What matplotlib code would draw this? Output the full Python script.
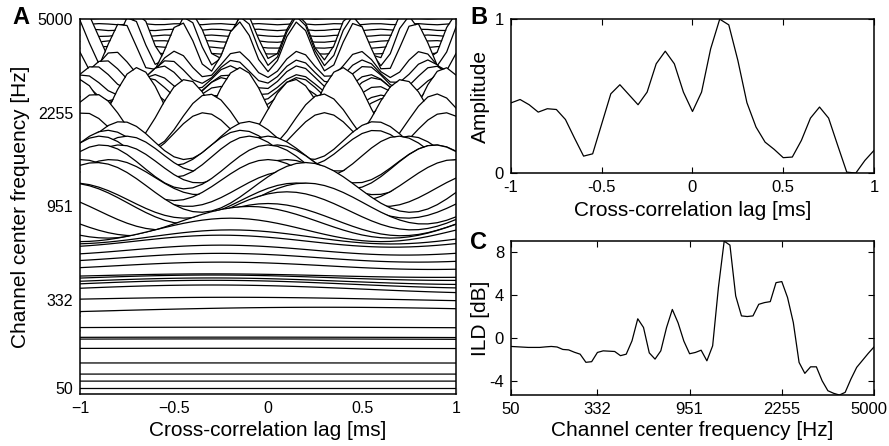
import matplotlib
matplotlib.use("Agg")
import matplotlib.pyplot as plt
import numpy as np
from matplotlib.transforms import ScaledTranslation

plt.rcParams['font.family'] = ['Liberation Sans', 'DejaVu Sans']

# lag grid of the correlograms [ms]
lags = np.round(np.arange(-20, 21) * 0.05, 2)

# channel numbers and the labels of the ticks (ERB spaced, 50..5000 Hz)
channels = np.arange(1, 65)
chan_ticks = [1, 16, 32, 48, 64]
chan_labels = ['50', '332', '951', '2255', '5000']

# panel A: per channel correlation peak height [channel units], peak lag [ms]
# and modulation depth
xc_amp = [0.0, 0.2, 0.4, 1.3, 2.8, 3.4, 2.7, 3.4, 1.8, 4.8,
          2.5, 2.0, 1.0, 2.5, 3.6, 3.4, 2.8, 2.3, 1.5, 2.5,
          3.0, 3.4, 4.1, 4.0, 5.0, 6.0, 5.5, 6.5, 7.0, 6.0,
          8.5, 6.0, 7.0, 6.0, 7.5, 6.5, 7.0, 6.0, 6.0, 6.5,
          7.0, 9.2, 10.7, 11.7, 3.0, 3.0, 3.5, 3.0, 3.5, 4.0,
          3.5, 4.0, 4.0, 4.5, 8.5, 8.5, 8.0, 0.3, 0.3, 0.3,
          0.25, 0.25, 0.2, 0.2]
xc_lag = [-0.2, -0.2, -0.2, -0.2, -0.2, -0.2, -0.2, -0.1, -0.2, 0.3,
          -0.2, -0.2, -0.2, -0.2, -0.3, -0.3, -0.3, -0.3, -0.3, -0.25,
          -0.25, -0.25, -0.25, -0.2, -0.2, -0.1, 0.0, 0.1, 0.2, 0.15,
          0.2, 0.1, 0.0, 0.1, 0.0, 0.05, -0.1, 0.0, 0.57, 0.57,
          0.3, 0.29, -0.435, -0.15, 0.16, 0.16, 0.16, 0.16, 0.16, 0.16,
          0.16, 0.16, 0.16, 0.16, 0.157, 0.157, 0.157, 0.157, 0.157, 0.157,
          0.157, 0.157, 0.157, 0.157]
xc_depth = [0.1, 0.1, 0.1, 0.1, 0.1, 0.1, 0.1, 0.1, 0.1, 0.3,
            0.3, 0.3, 0.3, 0.3, 0.4, 0.4, 0.4, 0.4, 0.4, 0.5,
            0.5, 0.5, 0.5, 0.6, 0.8, 0.9, 1.0, 1.0, 1.0, 1.0,
            1.0, 1.0, 1.0, 1.0, 1.0, 1.0, 1.0, 1.0, 1.0, 1.0,
            1.0, 1.0, 1.0, 1.0, 1.0, 1.0, 1.0, 1.0, 1.0, 1.0,
            1.0, 1.0, 1.0, 1.0, 1.0, 1.0, 1.0, 1.0, 1.0, 1.0,
            1.0, 1.0, 1.0, 1.0]

# panel B: summary cross-correlation
amplitude = [0.456, 0.478, 0.444, 0.396, 0.418, 0.413, 0.348, 0.227, 0.110, 0.125,
             0.320, 0.515, 0.574, 0.509, 0.444, 0.526, 0.710, 0.792, 0.710, 0.526,
             0.400, 0.526, 0.807, 1.000, 0.963, 0.732, 0.457, 0.299, 0.201, 0.154,
             0.100, 0.104, 0.212, 0.357, 0.429, 0.357, 0.180, 0.006, 0.000, 0.082,
             0.147]

# panel C: interaural level difference per channel [dB]
ild = [-0.80, -0.83, -0.86, -0.89, -0.89, -0.89, -0.84, -0.80, -0.85, -1.08,
       -1.12, -1.34, -1.52, -2.28, -2.22, -1.36, -1.21, -1.24, -1.27, -1.66,
       -1.52, -0.28, 1.78, 0.97, -1.40, -1.98, -1.21, 0.97, 2.65, 1.40,
       -0.30, -1.48, -1.36, -1.15, -2.14, -0.74, 4.69, 9.02, 8.65, 3.91,
       2.05, 1.99, 2.05, 3.13, 3.29, 3.38, 5.15, 5.25, 3.76, 1.43,
       -2.29, -3.31, -2.70, -2.70, -4.00, -4.93, -5.17, -5.33, -5.08, -3.84,
       -2.75, -2.10, -1.45, -0.85]


def erb_space(lo, hi, n):
    e_lo = 21.4 * np.log10(4.37e-3 * lo + 1)
    e_hi = 21.4 * np.log10(4.37e-3 * hi + 1)
    e = np.linspace(e_lo, e_hi, n)
    return (10 ** (e / 21.4) - 1) / 4.37e-3


def style_axes(ax, size):
    for s in ax.spines.values():
        s.set_linewidth(1.1)
    ax.tick_params(direction='in', length=4, width=0.8, top=True, right=True,
                   labelsize=size, pad=5)


fc = erb_space(50, 5000, len(channels))

fig = plt.figure(figsize=(8.89, 4.46), dpi=100)

# ---- A: cross-correlogram, low channels in front
axA = fig.add_axes([0.090, 0.1166, 0.423, 0.841])
for i in range(len(channels) - 1, -1, -1):
    k = channels[i]
    phase = np.cos(2 * np.pi * fc[i] * (lags - xc_lag[i]) / 1000.0)
    y = k + xc_amp[i] * (1 - xc_depth[i] * (1 - phase) / 2)
    z = 2 * (len(channels) - i)
    axA.fill_between(lags, y, -1, color='white', lw=0, zorder=z)
    axA.plot(lags, y, color='black', lw=0.9, zorder=z + 1)
axA.set_xlim(-1, 1)
axA.set_ylim(0, 64)
axA.set_xticks([-1, -0.5, 0, 0.5, 1])
axA.set_xticklabels(['\u22121', '\u22120.5', '0', '0.5', '1'])
axA.set_yticks(chan_ticks)
axA.set_yticklabels(chan_labels)
axA.set_xlabel('Cross-correlation lag [ms]', fontsize=15, labelpad=4)
axA.set_ylabel('Channel center frequency [Hz]', fontsize=15)
axA.yaxis.set_label_coords(-0.133, 0.5)
style_axes(axA, 11.5)
for s in axA.spines.values():
    s.set_zorder(500)

# ---- B: summary
axB = fig.add_axes([0.5748, 0.612, 0.4083, 0.345])
axB.plot(lags, amplitude, color='black', lw=0.9)
axB.set_xlim(-1, 1)
axB.set_ylim(0, 1)
axB.set_xticks([-1, -0.5, 0, 0.5, 1])
axB.set_xticklabels(['-1', '-0.5', '0', '0.5', '1'])
axB.set_yticks([0, 1])
axB.set_yticklabels(['0', '1'])
axB.set_xlabel('Cross-correlation lag [ms]', fontsize=15, labelpad=4)
axB.set_ylabel('Amplitude', fontsize=15)
axB.yaxis.set_label_coords(-0.058, 0.5)
style_axes(axB, 12)

# ---- C: ILD
axC = fig.add_axes([0.5748, 0.1143, 0.4083, 0.345])
axC.plot(channels, ild, color='black', lw=0.9)
axC.set_xlim(1, 64)
axC.set_ylim(min(ild), max(ild))
axC.set_xticks(chan_ticks)
axC.set_xticklabels(chan_labels)
axC.set_yticks([-4, 0, 4, 8])
axC.set_yticklabels(['-4', '0', '4', '8'])
axC.set_xlabel('Channel center frequency [Hz]', fontsize=15, labelpad=3)
axC.set_ylabel('ILD [dB]', fontsize=15)
axC.yaxis.set_label_coords(-0.058, 0.5)
style_axes(axC, 12)
# last label sits against the figure edge, nudge it inwards
last = axC.get_xticklabels()[-1]
last.set_transform(last.get_transform() + ScaledTranslation(-5 / 100, 0, fig.dpi_scale_trans))

fig.text(12 / 889, 1 - 24 / 446, 'A', fontsize=17, fontweight='bold')
fig.text(470 / 889, 1 - 24 / 446, 'B', fontsize=17, fontweight='bold')
fig.text(470 / 889, 1 - 249 / 446, 'C', fontsize=17, fontweight='bold')

fig.savefig('out.png', dpi=100)
